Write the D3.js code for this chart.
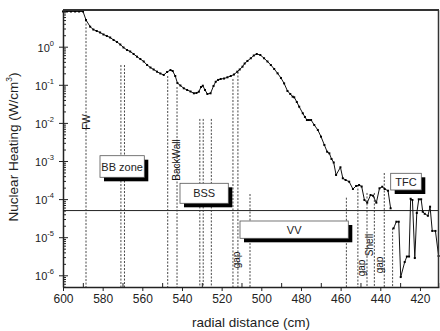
<!DOCTYPE html>
<html>
<head>
<meta charset="utf-8">
<script src="https://cdn.jsdelivr.net/npm/d3@7"></script>
<style>
  body { margin: 0; background: #fff; }
  svg { font-family: "Liberation Sans", Arial, sans-serif; }
</style>
</head>
<body>
<div id="chart"></div>
<script>
// radial distance (cm) and nuclear heating (W/cm3), inboard part up to the break
const radiusIn = [600.0, 598.0, 596.0, 593.9, 591.9, 589.9, 588.4, 586.3, 584.7, 583.0,
  581.3, 579.6, 577.9, 576.2, 574.5, 572.8, 571.1, 569.5, 567.7, 566.1,
  564.4, 562.7, 561.0, 559.3, 557.6, 555.9, 554.3, 552.6, 550.9, 549.2,
  547.5, 545.8, 544.7, 543.4, 542.3, 540.8, 539.1, 537.4, 535.7, 534.0,
  532.7, 531.5, 530.4, 529.5, 528.4, 527.2, 525.6, 524.1, 523.0, 521.8,
  520.5, 518.8, 517.1, 515.4, 513.8, 512.1, 510.9, 509.5, 508.4, 507.0,
  505.3, 503.8, 502.3, 500.5, 498.6, 496.9, 495.2, 493.5, 491.8, 490.1,
  488.5, 486.8, 485.4, 484.2, 483.4, 482.1, 480.9, 479.1, 478.0, 477.0,
  476.0, 474.9, 473.3, 471.5, 469.9, 468.2, 466.8, 465.7, 464.6, 463.5,
  462.3, 460.1, 458.9, 457.5, 455.7, 453.8, 452.2, 450.7, 449.4, 448.0,
  446.6, 444.9, 443.7, 442.0, 440.4, 439.0, 437.8, 436.1, 434.8];
const heatingIn = [8.4, 8.4, 8.4, 8.4, 8.4, 8.4, 5.02, 3.35, 2.82, 2.58,
  2.36, 2.09, 1.91, 1.74, 1.50, 1.33, 1.14, 0.953, 0.818, 0.748,
  0.643, 0.547, 0.475, 0.409, 0.331, 0.284, 0.252, 0.221, 0.198, 0.181,
  0.217, 0.244, 0.230, 0.170, 0.111, 0.0959, 0.0809, 0.0731, 0.0667, 0.0598,
  0.0610, 0.0659, 0.0875, 0.0946, 0.0731, 0.0574, 0.0598, 0.0931, 0.120, 0.134,
  0.142, 0.146, 0.157, 0.170, 0.186, 0.221, 0.252, 0.299, 0.362, 0.422,
  0.497, 0.587, 0.643, 0.605, 0.497, 0.409, 0.331, 0.260, 0.200, 0.151,
  0.109, 0.0687, 0.0574, 0.0488, 0.0470, 0.0354, 0.0266, 0.0179, 0.0143, 0.0119,
  0.0119, 0.0119, 0.00881, 0.00652, 0.00435, 0.00263, 0.00175, 0.00159, 0.00113, 0.000914,
  0.000430, 0.000684, 0.000352, 0.000317, 0.000286, 0.000184, 0.000221, 0.000234, 0.000214, 9.46e-5,
  8.05e-5, 1.28e-4, 1.23e-4, 8.05e-5, 1.92e-4, 2.11e-4, 1.84e-4, 1.66e-4, 5.74e-5];

// part behind the break (TF coil region)
const radiusOut = [433.3, 431.9, 430.7, 429.7, 427.7, 426.6, 425.5, 424.7, 423.8, 422.6,
  421.6, 420.6, 419.4, 418.6, 417.6, 416.0, 414.9, 413.8, 412.2, 410.6];
const heatingOut = [1.71e-5, 2.55e-5, 2.55e-5, 9.0e-7, 2.23e-6, 3.11e-6, 3.11e-6, 1.02e-4, 9.46e-5, 2.84e-6,
  4.32e-5, 9.89e-5, 9.89e-5, 4.67e-5, 4.11e-5, 3.65e-5, 6.32e-5, 1.46e-5, 1.46e-5, 3.21e-6];

// component boundaries (dashed verticals) and where they start
const boundaryRadius = [588.4, 570.8, 569.0, 547.2, 542.5, 531.0, 529.3, 525.2, 514.3, 511.8,
  505.7, 457.1, 451.3, 446.7, 443.0, 438.0, 433.8];
const boundaryTop = [5.0, 0.33, 0.33, 0.17, 0.0875, 0.0127, 0.0127, 0.0127, 0.142, 0.217,
  1.36e-4, 1.09e-4, 2.34e-4, 1.45e-4, 1.45e-4, 4.84e-4, 1.73e-5];

const limitValue = 5e-5;

const xTicks = [600, 580, 560, 540, 520, 500, 480, 460, 440, 420];
const xMinorTicks = [590, 570, 550, 530, 510, 490, 470, 450, 430, 410];
const yExponents = [-6, -5, -4, -3, -2, -1, 0];

const zoneLabels = ["BB zone", "BSS", "VV", "TFC"];
const sideLabels = ["FW", "BackWall", "gap", "gap", "Shell", "gap"];

const W = 440, H = 331;
const margin = {top: 10, right: 1, bottom: 44, left: 63};

const svg = d3.select("#chart").append("svg")
    .attr("width", W)
    .attr("height", H);

svg.append("rect").attr("width", W).attr("height", H).attr("fill", "#fff");

const x = d3.scaleLinear()
    .domain([600, 410.4])
    .range([margin.left, W - margin.right]);

const y = d3.scaleLog()
    .domain([Math.pow(10, -6.307), Math.pow(10, 0.963)])
    .range([H - margin.bottom, margin.top]);

const x0 = margin.left, x1 = W - margin.right;
const yb = H - margin.bottom, yt = margin.top;

// limit line
svg.append("line")
    .attr("x1", x0).attr("x2", x1)
    .attr("y1", y(limitValue)).attr("y2", y(limitValue))
    .attr("stroke", "#222").attr("stroke-width", 1);

// dashed boundaries
svg.append("g").selectAll("line")
    .data(boundaryRadius)
    .enter().append("line")
    .attr("x1", d => x(d)).attr("x2", d => x(d))
    .attr("y1", (d, i) => y(boundaryTop[i]))
    .attr("y2", yb)
    .attr("stroke", "#333")
    .attr("stroke-width", 0.9)
    .attr("stroke-dasharray", "2,1.5");

// heating curve
const line = d3.line()
    .x(d => x(d[0]))
    .y(d => y(d[1]));

const segIn = radiusIn.map((r, i) => [r, heatingIn[i]]);
const segOut = radiusOut.map((r, i) => [r, heatingOut[i]]);

[segIn, segOut].forEach(seg => {
    svg.append("path")
        .datum(seg)
        .attr("fill", "none")
        .attr("stroke", "#111")
        .attr("stroke-width", 1)
        .attr("d", line);
    svg.append("g").selectAll("rect")
        .data(seg)
        .enter().append("rect")
        .attr("x", d => x(d[0]) - 1)
        .attr("y", d => y(d[1]) - 1)
        .attr("width", 2).attr("height", 2)
        .attr("fill", "#000");
});

// zone boxes with drop shadow
const boxes = [
    {x: 100, y: 155.7, w: 44.3, h: 21.6},
    {x: 180, y: 183.3, w: 48.3, h: 20},
    {x: 240, y: 221, w: 108.3, h: 17.3},
    {x: 390.7, y: 173.3, w: 30.6, h: 16.7}
];
boxes.forEach((b, i) => {
    svg.append("rect")
        .attr("x", b.x + 4).attr("y", b.y + 4)
        .attr("width", b.w).attr("height", b.h)
        .attr("fill", "#000");
    svg.append("rect")
        .attr("x", b.x).attr("y", b.y)
        .attr("width", b.w).attr("height", b.h)
        .attr("fill", "#fff")
        .attr("stroke", "#555").attr("stroke-width", 0.8);
    svg.append("text")
        .attr("x", b.x + b.w / 2).attr("y", b.y + b.h / 2)
        .attr("text-anchor", "middle")
        .attr("dominant-baseline", "central")
        .attr("font-size", 11)
        .attr("fill", "#222")
        .text(zoneLabels[i]);
});

// rotated labels along the boundaries
const sidePos = [[86, 122], [176, 160], [236, 260], [361, 268], [369, 245], [379, 265]];
sideLabels.forEach((t, i) => {
    svg.append("text")
        .attr("transform", "translate(" + sidePos[i][0] + "," + sidePos[i][1] + ") rotate(-90)")
        .attr("text-anchor", "middle")
        .attr("dominant-baseline", "central")
        .attr("font-size", 10)
        .attr("fill", "#111")
        .text(t);
});

// x axis: minor ticks inside, major ticks outside
svg.append("g")
    .attr("transform", "translate(0," + yb + ")")
    .call(d3.axisBottom(x).tickValues(xMinorTicks).tickSize(-4).tickFormat(""))
    .call(g => g.select(".domain").remove())
    .selectAll("line").attr("stroke", "#222");

const xAxis = svg.append("g")
    .attr("transform", "translate(0," + yb + ")")
    .call(d3.axisBottom(x).tickValues(xTicks).tickSizeInner(4).tickSizeOuter(0).tickPadding(3));
xAxis.select(".domain").attr("stroke", "#222").attr("stroke-width", 1.5);
xAxis.selectAll("line").attr("stroke", "#222");
xAxis.selectAll("text")
    .attr("font-size", 12)
    .attr("font-family", "Liberation Sans, Arial, sans-serif")
    .attr("fill", "#222");

// y axis (log)
const yMinor = [];
for (let k = -7; k <= 0; k++) {
    for (let m = 2; m <= 9; m++) {
        const v = m * Math.pow(10, k);
        if (v > y.domain()[0] && v < y.domain()[1]) yMinor.push(v);
    }
}
svg.append("g")
    .attr("transform", "translate(" + x0 + ",0)")
    .call(d3.axisLeft(y).tickValues(yMinor).tickSize(-3).tickFormat(""))
    .call(g => g.select(".domain").remove())
    .selectAll("line").attr("stroke", "#222");

const yAxis = svg.append("g")
    .attr("transform", "translate(" + x0 + ",0)")
    .call(d3.axisLeft(y).tickValues(yExponents.map(k => Math.pow(10, k)))
        .tickSizeInner(4).tickSizeOuter(0).tickFormat(""));
yAxis.select(".domain").attr("stroke", "#222").attr("stroke-width", 1.5);
yAxis.selectAll("line").attr("x2", 5).attr("x1", -4).attr("stroke", "#222");

yExponents.forEach(k => {
    const t = svg.append("text")
        .attr("x", 54)
        .attr("y", y(Math.pow(10, k)) + 5)
        .attr("text-anchor", "end")
        .attr("fill", "#222")
        .attr("font-size", 11);
    t.append("tspan").text("10");
    t.append("tspan").attr("dy", -6).attr("font-size", 7.5).text(k);
});

// frame top / right
svg.append("line")
    .attr("x1", x0).attr("x2", x1).attr("y1", yt).attr("y2", yt)
    .attr("stroke", "#333").attr("stroke-width", 2);
svg.append("line")
    .attr("x1", x1 - 0.5).attr("x2", x1 - 0.5).attr("y1", yt).attr("y2", yb)
    .attr("stroke", "#333").attr("stroke-width", 1.5);

// axis titles
svg.append("text")
    .attr("x", (x0 + x1) / 2 + 0)
    .attr("y", 327)
    .attr("text-anchor", "middle")
    .attr("font-size", 13.5)
    .attr("fill", "#222")
    .text("radial distance (cm)");

const yTitle = svg.append("text")
    .attr("transform", "translate(18,147) rotate(-90)")
    .attr("text-anchor", "middle")
    .attr("font-size", 13.5)
    .attr("fill", "#222");
yTitle.append("tspan").text("Nuclear Heating (W/cm");
yTitle.append("tspan").attr("dy", -6).attr("font-size", 8.5).text("3");
yTitle.append("tspan").attr("dy", 6).text(")");
</script>
</body>
</html>
